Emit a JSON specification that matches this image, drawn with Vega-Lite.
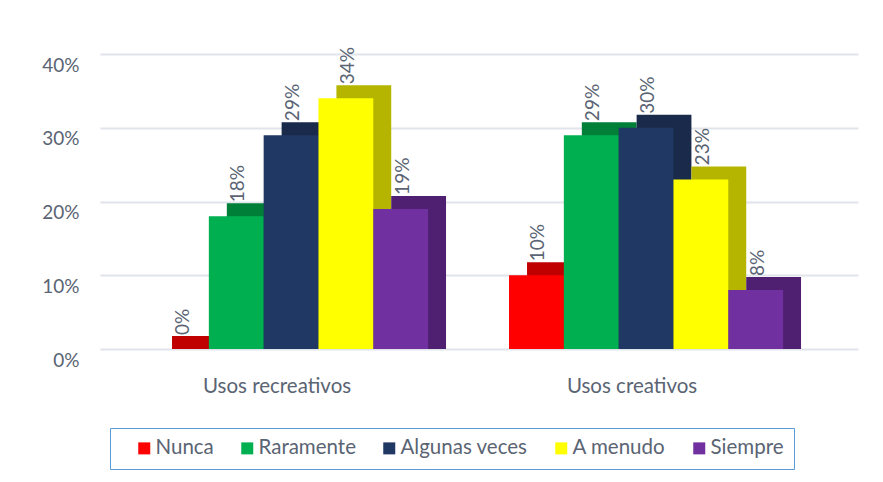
{
  "$schema": "https://vega.github.io/schema/vega-lite/v6.json",
  "width": 758,
  "height": 295,
  "autosize": {"type": "none"},
  "padding": {"left": 100, "top": 54, "right": 25, "bottom": 133},
  "background": "white",
  "data": {
    "values": [
      {"uso": "Usos recreativos", "freq": "Nunca", "valor": 0.0},
      {"uso": "Usos recreativos", "freq": "Raramente", "valor": 0.18},
      {"uso": "Usos recreativos", "freq": "Algunas veces", "valor": 0.29},
      {"uso": "Usos recreativos", "freq": "A menudo", "valor": 0.34},
      {"uso": "Usos recreativos", "freq": "Siempre", "valor": 0.19},
      {"uso": "Usos creativos", "freq": "Nunca", "valor": 0.10},
      {"uso": "Usos creativos", "freq": "Raramente", "valor": 0.29},
      {"uso": "Usos creativos", "freq": "Algunas veces", "valor": 0.30},
      {"uso": "Usos creativos", "freq": "A menudo", "valor": 0.23},
      {"uso": "Usos creativos", "freq": "Siempre", "valor": 0.08}
    ]
  },
  "encoding": {
    "x": {
      "field": "uso",
      "type": "nominal",
      "sort": ["Usos recreativos", "Usos creativos"],
      "scale": {"paddingInner": 0.228, "paddingOuter": 0.1816, "align": 0.419},
      "axis": {
        "title": null,
        "domain": false,
        "ticks": false,
        "labelAngle": 0,
        "labelPadding": 27,
        "labelOffset": -14,
        "labelFont": "Lato",
        "labelFontSize": 20.5,
        "labelColor": "#5A6473"
      }
    },
    "y": {
      "field": "valor",
      "type": "quantitative",
      "scale": {"domain": [0, 0.4]},
      "axis": {
        "title": null,
        "format": ".0%",
        "values": [0, 0.1, 0.2, 0.3, 0.4],
        "domain": false,
        "ticks": false,
        "labelPadding": 21,
        "labelOffset": 11,
        "labelFont": "Lato",
        "labelFontSize": 19,
        "labelColor": "#5A6473",
        "gridColor": "#E1E4EA",
        "gridWidth": 2
      }
    }
  },
  "layer": [
    {
      "mark": {"type": "bar", "yOffset": -13, "y2Offset": 0},
      "encoding": {
        "y2": {"datum": 0},
        "xOffset": {
          "field": "freq",
          "type": "nominal",
          "sort": ["Nunca", "Raramente", "Algunas veces", "A menudo", "Siempre"],
          "scale": {"paddingInner": 0, "paddingOuter": 0, "range": [18, 292]}
        },
        "color": {
          "field": "freq",
          "type": "nominal",
          "scale": {
            "domain": ["Nunca", "Raramente", "Algunas veces", "A menudo", "Siempre"],
            "range": ["#C00000", "#007F38", "#1A2A4B", "#B5B500", "#4F2072"]
          },
          "legend": null
        }
      }
    },
    {
      "mark": {"type": "bar"},
      "encoding": {
        "xOffset": {
          "field": "freq",
          "type": "nominal",
          "sort": ["Nunca", "Raramente", "Algunas veces", "A menudo", "Siempre"],
          "scale": {"paddingInner": 0, "paddingOuter": 0}
        },
        "color": {
          "field": "freq",
          "type": "nominal",
          "sort": ["Nunca", "Raramente", "Algunas veces", "A menudo", "Siempre"],
          "scale": {
            "domain": ["Nunca", "Raramente", "Algunas veces", "A menudo", "Siempre"],
            "range": ["#FF0000", "#00B050", "#203864", "#FFFF00", "#7030A0"]
          },
          "legend": {
            "orient": "none",
            "legendX": 10,
            "legendY": 374,
            "direction": "horizontal",
            "title": null,
            "strokeColor": "#5B9BD5",
            "fillColor": "white",
            "padding": 10,
            "symbolType": "square",
            "symbolSize": 144,
            "symbolStrokeWidth": 0,
            "symbolOffset": 14,
            "labelFont": "Lato",
            "labelFontSize": 20.5,
            "labelColor": "#5A6473",
            "labelOffset": 1,
            "columnPadding": 9
          }
        }
      }
    },
    {
      "mark": {
        "type": "text",
        "angle": 270,
        "align": "left",
        "baseline": "middle",
        "dx": 14,
        "dy": 2,
        "font": "Lato",
        "fontSize": 19,
        "color": "#5A6473"
      },
      "encoding": {
        "xOffset": {
          "field": "freq",
          "type": "nominal",
          "sort": ["Nunca", "Raramente", "Algunas veces", "A menudo", "Siempre"],
          "scale": {"type": "band", "paddingInner": 0, "paddingOuter": 0}
        },
        "text": {"field": "valor", "type": "quantitative", "format": ".0%"}
      }
    }
  ],
  "resolve": {"scale": {"color": "independent", "xOffset": "independent"}},
  "config": {"view": {"stroke": null}}
}
